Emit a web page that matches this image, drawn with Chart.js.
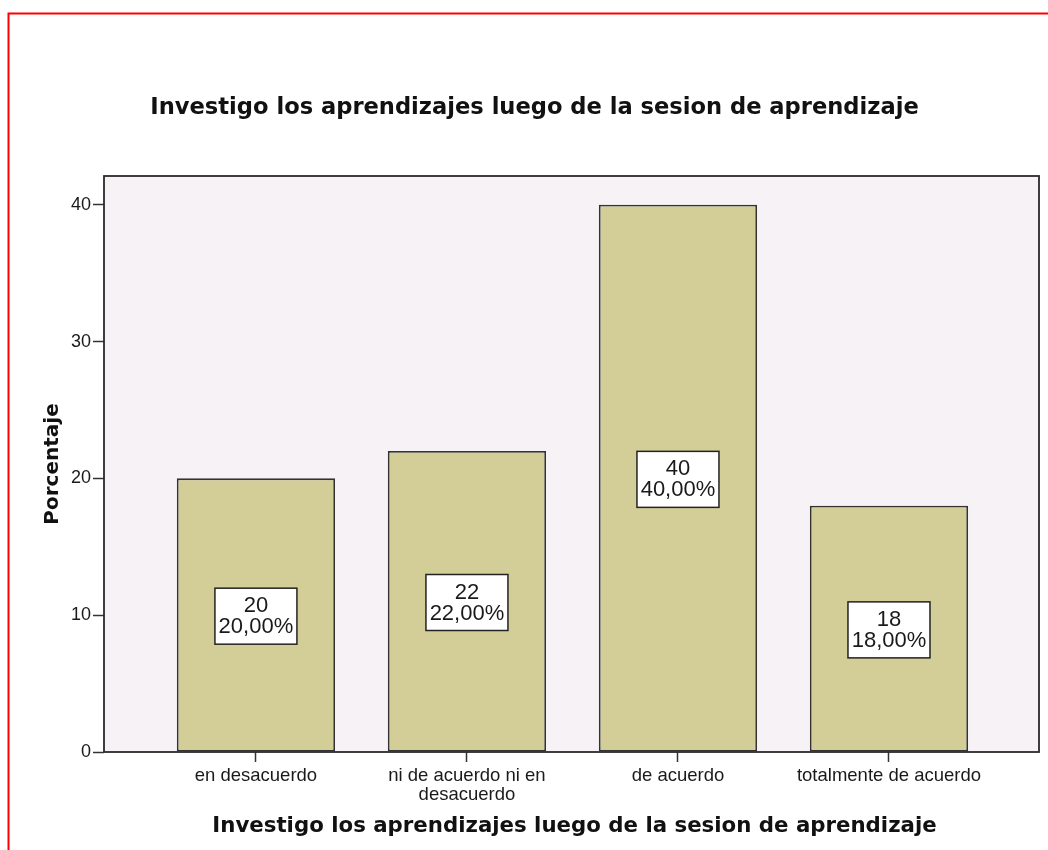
<!DOCTYPE html>
<html>
<head>
<meta charset="utf-8">
<script src="https://cdn.jsdelivr.net/npm/chart.js@4/dist/chart.umd.min.js"></script>
<style>
  html, body { margin: 0; padding: 0; background: #ffffff; }
  canvas { display: block; }
</style>
</head>
<body>
<canvas id="c" width="1048" height="850"></canvas>
<script>
// ---- data ----
const chartTitle = "Investigo los aprendizajes luego de la sesion de aprendizaje";
const xAxisTitle = "Investigo los aprendizajes luego de la sesion de aprendizaje";
const yAxisTitle = "Porcentaje";
const categories = [
  ["en desacuerdo"],
  ["ni de acuerdo ni en", "desacuerdo"],
  ["de acuerdo"],
  ["totalmente de acuerdo"]
];
const counts = [20, 22, 40, 18];
const percents = [20, 22, 40, 18];
const percentLabels = ["20,00%", "22,00%", "40,00%", "18,00%"];
const yTicks = [0, 10, 20, 30, 40];

const TITLE_FONT = '"DejaVu Sans", Verdana, sans-serif';
const BODY_FONT = '"Liberation Sans", Arial, sans-serif';

const decorPlugin = {
  id: 'decor',
  beforeDatasetsDraw(chart) {
    const { ctx, chartArea: a } = chart;
    ctx.save();
    ctx.fillStyle = '#f6f2f6';
    ctx.fillRect(a.left, a.top, a.right - a.left, a.bottom - a.top);
    ctx.restore();
  },
  afterDatasetsDraw(chart) {
    const { ctx, chartArea: a } = chart;
    ctx.save();
    // plot frame
    ctx.strokeStyle = '#2a2a2a';
    ctx.lineWidth = 1.8;
    ctx.strokeRect(a.left, a.top, a.right - a.left, a.bottom - a.top);

    // value boxes
    const meta = chart.getDatasetMeta(0);
    const ys = chart.scales.y;
    meta.data.forEach((bar, i) => {
      const cx = bar.x;
      const cy = ys.getPixelForValue(percents[i] / 2) + 1;
      const w = 82, h = 56;
      ctx.fillStyle = '#ffffff';
      ctx.fillRect(cx - w / 2, cy - h / 2, w, h);
      ctx.strokeStyle = '#222';
      ctx.lineWidth = 1.5;
      ctx.strokeRect(cx - w / 2, cy - h / 2, w, h);
      ctx.fillStyle = '#1a1a1a';
      ctx.font = '22px ' + BODY_FONT;
      ctx.textAlign = 'center';
      ctx.textBaseline = 'alphabetic';
      ctx.fillText(String(counts[i]), cx, cy - 4);
      ctx.fillText(percentLabels[i], cx, cy + 17);
    });

    // titles
    ctx.fillStyle = '#111';
    ctx.textAlign = 'center';
    ctx.textBaseline = 'alphabetic';
    ctx.font = 'bold 22.6px ' + TITLE_FONT;
    ctx.fillText(chartTitle, 534.5, 114);
    ctx.font = 'bold 21.3px ' + TITLE_FONT;
    ctx.fillText(xAxisTitle, (a.left + a.right) / 2 + 3, 832);
    ctx.save();
    ctx.translate(58, (a.top + a.bottom) / 2);
    ctx.rotate(-Math.PI / 2);
    ctx.font = 'bold 20px ' + TITLE_FONT;
    ctx.fillText(yAxisTitle, 0, 0);
    ctx.restore();

    // red outer frame
    ctx.strokeStyle = '#ff0000';
    ctx.lineWidth = 2;
    ctx.beginPath();
    ctx.moveTo(8.5, 850);
    ctx.lineTo(8.5, 13.5);
    ctx.lineTo(1048, 13.5);
    ctx.stroke();
    ctx.restore();
  }
};

new Chart(document.getElementById('c'), {
  type: 'bar',
  data: {
    datasets: [{
      data: categories.map((c, i) => ({ x: i, y: percents[i] })),
      backgroundColor: '#d3ce97',
      borderColor: '#333333',
      borderWidth: 1.8,
      borderSkipped: false,
      barPercentage: 0.75,
      categoryPercentage: 1.0
    }]
  },
  options: {
    responsive: false,
    animation: false,
    events: [],
    layout: { padding: { left: 0, top: 176, right: 9, bottom: 0 } },
    plugins: { legend: { display: false }, tooltip: { enabled: false }, title: { display: false } },
    scales: {
      x: {
        type: 'linear',
        offset: false,
        min: -0.72,
        max: 3.711,
        afterFit(scale) { scale.height = 98; },
        afterBuildTicks(scale) { scale.ticks = categories.map((c, i) => ({ value: i })); },
        grid: { drawOnChartArea: false, offset: false, tickLength: 10, color: '#333', tickWidth: 1.5 },
        border: { display: false },
        ticks: {
          autoSkip: false,
          maxRotation: 0,
          padding: 5,
          color: '#1a1a1a',
          font: { family: BODY_FONT, size: 18.5, lineHeight: 1.0 },
          callback: (v) => categories[v] || ''
        }
      },
      y: {
        min: 0,
        max: 42.1,
        afterFit(scale) { scale.width = 104; },
        afterBuildTicks(scale) { scale.ticks = yTicks.map(v => ({ value: v })); },
        grid: { drawOnChartArea: false, tickLength: 11, color: '#333', tickWidth: 1.5 },
        border: { display: false },
        ticks: {
          padding: 2,
          color: '#1a1a1a',
          font: { family: BODY_FONT, size: 18 },
          includeBounds: false
        }
      }
    }
  },
  plugins: [decorPlugin]
});
</script>
</body>
</html>
